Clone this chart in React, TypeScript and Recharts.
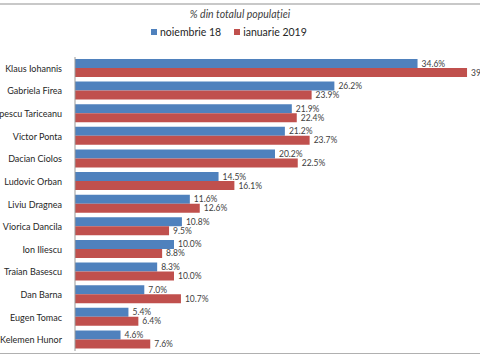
import { BarChart, Bar, XAxis, YAxis, Legend, LabelList } from 'recharts';

const candidates = [
  'Klaus Iohannis',
  'Gabriela Firea',
  'Popescu Tariceanu',
  'Victor Ponta',
  'Dacian Ciolos',
  'Ludovic Orban',
  'Liviu Dragnea',
  'Viorica Dancila',
  'Ion Iliescu',
  'Traian Basescu',
  'Dan Barna',
  'Eugen Tomac',
  'Kelemen Hunor',
];
const nov18 = [34.6, 26.2, 21.9, 21.2, 20.2, 14.5, 11.6, 10.8, 10.0, 8.3, 7.0, 5.4, 4.6];
const ian19 = [39.6, 23.9, 22.4, 23.7, 22.5, 16.1, 12.6, 9.5, 8.8, 10.0, 10.7, 6.4, 7.6];
const seriesNames = ['noiembrie 18', 'ianuarie 2019'];
const seriesColors = ['#4F81BD', '#C0504D'];

const data = candidates.map((name, i) => ({ name, nov: nov18[i], ian: ian19[i] }));

const FONT = 'Lato, "Open Sans", sans-serif';
const fmt = (v: any) => `${Number(v).toFixed(1)}%`;

// eticheta pe o singura linie, fara wrap
const NameTick = ({ x, y, payload }: any) => (
  <text x={x + 1} y={y} dy={3.5} textAnchor="end" fill="#262626" fontSize={9} fontFamily={FONT}>
    {payload.value}
  </text>
);

const LegendBox = () => (
  <div style={{ display: 'flex', gap: 13, fontSize: 10.5, fontFamily: FONT, color: '#262626' }}>
    {seriesNames.map((n, i) => (
      <span key={n} style={{ display: 'flex', alignItems: 'center', gap: 3 }}>
        <span style={{ width: 6, height: 6, background: seriesColors[i], display: 'inline-block' }} />
        {n}
      </span>
    ))}
  </div>
);

export default function App() {
  return (
    <div style={{ position: 'absolute', left: 0, top: 0, width: 480, height: 360, background: '#fff', fontFamily: FONT, overflow: 'hidden' }}>
      <div style={{ position: 'absolute', left: 0, top: 3, width: 480, height: 2, background: '#c8c8c8' }} />
      <div style={{ position: 'absolute', left: 0, top: 353, width: 480, height: 1, background: '#b0b0b0' }} />
      <div style={{ position: 'absolute', left: 0, top: 8, width: 480, textAlign: 'center', fontStyle: 'italic', fontSize: 10.5, color: '#404040' }}>
        % din totalul populației
      </div>
      <BarChart
        width={480}
        height={360}
        data={data}
        layout="vertical"
        margin={{ top: 45, right: 9, bottom: 9, left: 0 }}
        barSize={9}
        barGap={0}
      >
        <XAxis type="number" domain={[0, 40]} hide />
        <YAxis
          type="category"
          dataKey="name"
          width={75}
          tickLine={false}
          axisLine={{ stroke: '#999' }}
          tick={<NameTick />}
          tickMargin={8}
          interval={0}
        />
        <Legend
          verticalAlign="top"
          align="left"
          content={<LegendBox />}
          wrapperStyle={{ top: 26, left: 151, width: 'auto' }}
        />
        <Bar dataKey="nov" name={seriesNames[0]} fill={seriesColors[0]} isAnimationActive={false}>
          <LabelList dataKey="nov" position="right" offset={4} formatter={fmt} style={{ fill: '#404040', fontSize: 8.5, fontFamily: FONT }} />
        </Bar>
        <Bar dataKey="ian" name={seriesNames[1]} fill={seriesColors[1]} isAnimationActive={false}>
          <LabelList dataKey="ian" position="right" offset={4} formatter={fmt} style={{ fill: '#404040', fontSize: 8.5, fontFamily: FONT }} />
        </Bar>
      </BarChart>
    </div>
  );
}
